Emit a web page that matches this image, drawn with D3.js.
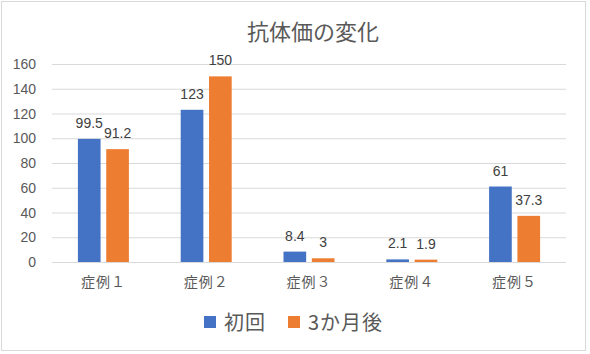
<!DOCTYPE html>
<html><head><meta charset="utf-8">
<script src="https://cdn.jsdelivr.net/npm/d3@7"></script>
<style>body{margin:0;background:#fff}</style>
</head><body>
<script>
const categories = ["症例１","症例２","症例３","症例４","症例５"];
const seriesNames = ["初回","3か月後"];
const firstValues = [99.5,123,8.4,2.1,61];
const laterValues = [91.2,150,3,1.9,37.3];
const yTicks = [0,20,40,60,80,100,120,140,160];
const colors = ["#4472C4","#ED7D31"];

(function(){
const W=590,H=354;
const svg=d3.select("body").append("svg").attr("width",W).attr("height",H);
svg.append("rect").attr("x",1.5).attr("y",1.5).attr("width",584).attr("height",349)
  .attr("fill","#fff").attr("stroke","#d9d9d9");

const pl=52,pr=566,pt=64,pb=262;
const x=d3.scaleBand().domain(categories).range([pl,pr]);
const y=d3.scaleLinear().domain([0,160]).range([pb,pt]);
const xs=d3.scaleBand().domain([0,1]).range([0,51]).paddingInner(0.2);
const font="'Noto Sans CJK JP','Noto Sans',sans-serif";
const numFont="'Liberation Sans',Arial,sans-serif";

svg.append("text").attr("x",(pl+pr)/2+4).attr("y",40).attr("text-anchor","middle")
  .attr("font-family",font).attr("font-size",22).attr("fill","#595959").text("抗体価の変化");

const g=svg.append("g");
g.selectAll("line.grid").data(yTicks).join("line")
  .attr("x1",pl).attr("x2",pr).attr("y1",d=>y(d)+0.5).attr("y2",d=>y(d)+0.5)
  .attr("stroke","#d9d9d9").attr("stroke-width",1);
g.selectAll("text.yt").data(yTicks).join("text")
  .attr("x",36).attr("y",d=>y(d)+5).attr("text-anchor","end")
  .attr("font-family",numFont).attr("font-size",14).attr("fill","#595959").text(d=>d);

const data=[firstValues,laterValues];
data.forEach((vals,si)=>{
  const gs=svg.append("g");
  gs.selectAll("rect").data(vals).join("rect")
    .attr("x",(d,i)=>x(categories[i])+x.bandwidth()/2-25.5+xs(si))
    .attr("width",xs.bandwidth())
    .attr("y",d=>y(d)).attr("height",d=>y(0)-y(d))
    .attr("fill",colors[si]);
  gs.selectAll("text").data(vals).join("text")
    .attr("x",(d,i)=>x(categories[i])+x.bandwidth()/2-25.5+xs(si)+xs.bandwidth()/2)
    .attr("y",d=>y(d)-11).attr("text-anchor","middle")
    .attr("font-family",numFont).attr("font-size",14).attr("fill","#404040").text(d=>d);
});

svg.append("g").selectAll("text").data(categories).join("text")
  .attr("x",d=>x(d)+x.bandwidth()/2).attr("y",287).attr("text-anchor","middle")
  .attr("font-family",font).attr("font-size",14).attr("letter-spacing",1).attr("fill","#595959").text(d=>d);

const legX=[204,288];
seriesNames.forEach((n,i)=>{
  svg.append("rect").attr("x",legX[i]).attr("y",316).attr("width",12).attr("height",12).attr("fill",colors[i]);
  svg.append("text").attr("x",legX[i]+20).attr("y",330).attr("font-family",font)
    .attr("font-size",20).attr("letter-spacing",1).attr("fill","#595959").text(n);
});
})();
</script>
</body></html>
